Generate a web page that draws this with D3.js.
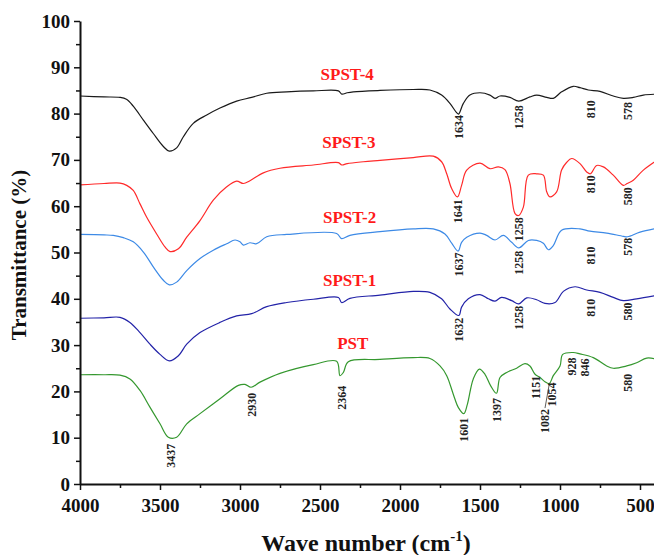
<!DOCTYPE html>
<html>
<head>
<meta charset="utf-8">
<script src="https://cdn.jsdelivr.net/npm/d3@7"></script>
<style>
  body { margin: 0; background: #fff; }
  svg text { font-family: "Liberation Serif", "Times New Roman", Times, serif !important; }
</style>
</head>
<body>
<div id="chart"></div>
<script>
// spectra, [wave number, transmittance]
var spst4 = [[4000,83.8],[3850,83.6],[3750,83.5],[3710,83.1],[3667,81.6],[3604,78.6],[3542,75.7],[3479,72.9],[3442,71.9],
  [3396,72.6],[3354,75.0],[3292,77.9],[3208,79.7],[3125,81.2],[3021,82.7],[2927,83.5],[2833,84.4],[2708,84.7],
  [2542,84.9],[2385,84.9],[2364,84.2],[2330,84.5],[2292,84.7],[2125,85.0],[1917,85.2],[1813,85.1],[1740,84.0],
  [1688,82.2],[1646,80.2],[1634,79.9],[1604,82.2],[1563,84.0],[1500,84.5],[1438,84.0],[1406,83.3],[1375,83.8],
  [1313,83.5],[1258,82.7],[1188,83.6],[1146,84.0],[1083,83.5],[1042,83.3],[990,84.7],[917,85.9],[875,85.6],
  [823,85.1],[750,84.8],[667,83.8],[604,83.3],[542,83.5],[479,84.0],[400,84.2]];

var spst3 = [[4000,64.6],[3850,64.9],[3750,65.0],[3708,64.5],[3667,63.4],[3625,60.5],[3583,57.6],[3521,54.0],[3469,51.2],
  [3437,50.2],[3385,50.8],[3333,53.3],[3250,56.9],[3167,61.3],[3083,64.2],[3021,65.4],[2979,64.9],[2938,65.5],
  [2854,67.2],[2750,68.2],[2542,68.9],[2385,69.4],[2364,68.9],[2330,69.2],[2229,69.6],[2125,69.9],[1917,70.5],
  [1792,70.8],[1740,69.6],[1708,67.0],[1677,63.8],[1641,62.0],[1615,64.5],[1583,67.8],[1500,69.3],[1438,68.1],
  [1385,68.5],[1344,67.9],[1313,64.9],[1281,58.4],[1258,58.0],[1229,59.8],[1198,66.7],[1146,67.0],[1104,66.7],
  [1083,63.1],[1063,62.0],[1021,63.1],[990,67.8],[958,69.5],[927,70.3],[875,69.2],[833,67.4],[810,67.0],
  [771,68.8],[729,68.5],[667,66.7],[604,64.5],[580,64.9],[542,65.6],[479,67.8],[400,69.8]];

var spst2 = [[4000,53.9],[3850,53.8],[3792,53.7],[3729,53.2],[3667,52.3],[3604,50.1],[3542,46.9],[3479,44.0],[3442,43.0],
  [3396,43.6],[3333,46.1],[3250,48.7],[3167,50.5],[3083,51.9],[3031,52.7],[3000,52.3],[2979,51.6],[2938,52.1],
  [2896,51.9],[2833,53.4],[2708,53.9],[2396,54.1],[2365,53.0],[2313,53.7],[2125,54.5],[1917,55.1],[1792,55.1],
  [1719,54.0],[1677,52.0],[1637,50.3],[1615,52.2],[1583,53.3],[1500,54.2],[1458,53.7],[1406,52.7],[1354,53.7],
  [1302,52.2],[1258,51.0],[1198,52.6],[1146,52.6],[1104,52.0],[1073,50.6],[1042,51.5],[990,54.8],[875,55.1],
  [813,54.6],[708,54.2],[604,53.5],[578,53.4],[500,54.4],[400,55.2]];

var spst1 = [[4000,35.8],[3850,35.9],[3750,36.0],[3688,34.9],[3625,32.7],[3563,30.2],[3500,28.0],[3442,26.6],[3385,27.7],
  [3333,30.2],[3250,32.7],[3125,34.9],[3021,36.3],[2927,36.8],[2833,38.3],[2708,39.2],[2542,39.9],[2385,40.3],
  [2365,39.2],[2313,40.1],[2125,40.8],[1917,41.6],[1813,41.4],[1740,40.0],[1688,37.8],[1632,36.4],[1615,38.2],
  [1573,40.0],[1500,40.9],[1448,40.0],[1406,39.5],[1365,40.3],[1302,39.6],[1258,38.9],[1208,40.2],[1146,39.8],
  [1094,39.0],[1031,39.2],[979,41.6],[906,42.6],[833,41.9],[750,41.4],[667,40.3],[604,39.6],[521,40.0],[400,40.7]];

var pst = [[4000,23.6],[3850,23.6],[3750,23.5],[3688,22.7],[3625,20.2],[3563,16.6],[3500,13.0],[3448,10.1],[3396,10.1],
  [3333,13.0],[3250,15.2],[3125,18.4],[3010,21.3],[2969,21.5],[2931,20.9],[2875,22.0],[2750,23.9],[2542,25.8],
  [2396,26.5],[2375,23.4],[2354,24.1],[2323,26.4],[2125,26.9],[1917,27.3],[1813,27.1],[1750,25.5],[1708,23.4],
  [1667,19.4],[1635,16.5],[1601,15.2],[1579,17.2],[1542,22.7],[1504,24.8],[1469,23.7],[1433,21.2],[1397,19.6],
  [1375,23.0],[1333,24.1],[1271,25.0],[1219,26.0],[1188,25.5],[1156,23.7],[1125,23.0],[1094,22.1],[1067,21.7],
  [1042,23.4],[1000,25.5],[983,28.0],[917,28.4],[875,28.1],[792,27.3],[708,25.5],[667,25.0],[583,25.5],
  [521,26.2],[458,27.2],[400,27.0]];

var seriesNames = ["SPST-4", "SPST-3", "SPST-2", "SPST-1", "PST"];
var seriesColors = ["#1a1a1a", "#ff2a2a", "#3d8ae6", "#2323a8", "#35982f"];
var seriesData = [spst4, spst3, spst2, spst1, pst];
// series name label anchor [wave number, transmittance]
var nameAnchors = [[2330, 87.2], [2320, 72.5], [2315, 56.3], [2315, 42.8], [2295, 29.2]];

// peak labels [wave number, transmittance at label top, text]
var peaks4 = [[1634, 79.7, "1634"], [1258, 81.8, "1258"], [810, 82.9, "810"], [578, 82.5, "578"]];
var peaks3 = [[1641, 61.5, "1641"], [1258, 57.6, "1258"], [810, 66.7, "810"], [580, 64.1, "580"]];
var peaks2 = [[1637, 50.0, "1637"], [1258, 50.4, "1258"], [810, 51.3, "810"], [578, 53.2, "578"]];
var peaks1 = [[1632, 35.9, "1632"], [1258, 38.5, "1258"], [810, 40.0, "810"], [580, 39.2, "580"]];
var peaks0 = [[3437, 8.7, "3437"], [2930, 19.7, "2930"], [2364, 21.2, "2364"], [1601, 14.3, "1601"],
  [1397, 18.6, "1397"], [1151, 23.4, "1151"], [1100, 16.2, "1082"], [1054, 21.9, "1054"],
  [928, 27.3, "928"], [846, 27.1, "846"], [580, 23.8, "580"]];

var xTicks = [4000, 3500, 3000, 2500, 2000, 1500, 1000, 500];
var xMinor = [3750, 3250, 2750, 2250, 1750, 1250, 750];
var yTicks = [0, 10, 20, 30, 40, 50, 60, 70, 80, 90, 100];
var yMinor = [5, 15, 25, 35, 45, 55, 65, 75, 85, 95];

var w = 654;
var h = 555;

var svg = d3.select("#chart")
  .append("svg")
  .attr("width", w)
  .attr("height", h);

svg.append("rect").attr("width", w).attr("height", h).attr("fill", "#fff");

var x = d3.scaleLinear().domain([4000, 400]).range([80, 656]);
var y = d3.scaleLinear().domain([0, 100]).range([484, 21]);

var line = d3.line()
  .x(function(d) { return x(d[0]); })
  .y(function(d) { return y(d[1]); })
  .curve(d3.curveCatmullRom.alpha(0.5));

seriesData.forEach(function(s, i) {
  svg.append("path")
    .datum(s)
    .attr("fill", "none")
    .attr("stroke", seriesColors[i])
    .attr("stroke-width", 1.2)
    .attr("d", line);
});

// series names
svg.selectAll(".name")
  .data(seriesNames)
  .enter().append("text")
  .attr("class", "name")
  .attr("x", function(d, i) { return x(nameAnchors[i][0]); })
  .attr("y", function(d, i) { return y(nameAnchors[i][1]); })
  .attr("text-anchor", "middle")
  .attr("font-size", 17)
  .attr("font-weight", "bold")
  .attr("fill", "#ff1a1a")
  .text(function(d) { return d; });

// peak labels, rotated
var allPeaks = [].concat(peaks4, peaks3, peaks2, peaks1, peaks0);
svg.selectAll(".peak")
  .data(allPeaks)
  .enter().append("text")
  .attr("class", "peak")
  .attr("transform", function(d) {
    return "translate(" + (x(d[0]) + 4.5) + "," + y(d[1]) + ") rotate(-90)";
  })
  .attr("text-anchor", "end")
  .attr("font-size", 12)
  .attr("font-weight", "bold")
  .attr("fill", "#222")
  .text(function(d) { return d[2]; });

// leader for 1082
svg.append("line")
  .attr("x1", x(1100) + 1).attr("y1", y(16.4))
  .attr("x2", x(1068)).attr("y2", y(21.4))
  .attr("stroke", "#333").attr("stroke-width", 0.8);

// axes
var xAxis = d3.axisBottom(x).tickValues(xTicks).tickSize(6).tickSizeOuter(0).tickPadding(9).tickFormat(d3.format("d"));
var xAxisMinor = d3.axisBottom(x).tickValues(xMinor).tickSize(4).tickFormat("");
var yAxis = d3.axisLeft(y).tickValues(yTicks).tickSize(6).tickSizeOuter(0).tickPadding(4);
var yAxisMinor = d3.axisLeft(y).tickValues(yMinor).tickSize(4).tickFormat("");

svg.append("g").attr("transform", "translate(0," + y(0) + ")").call(xAxis);
svg.append("g").attr("transform", "translate(0," + y(0) + ")").call(xAxisMinor).select(".domain").remove();
svg.append("g").attr("transform", "translate(" + x(4000) + ",0)").call(yAxis);
svg.append("g").attr("transform", "translate(" + x(4000) + ",0)").call(yAxisMinor).select(".domain").remove();

svg.selectAll(".domain").attr("stroke", "#111").attr("stroke-width", 2);
svg.selectAll(".tick line").attr("stroke", "#111").attr("stroke-width", 1.5);
svg.selectAll(".tick text")
  .attr("font-size", 19)
  .attr("font-weight", "bold")
  .attr("fill", "#111");

// axis titles
svg.append("text")
  .attr("transform", "translate(26,255) rotate(-90)")
  .attr("text-anchor", "middle")
  .attr("font-size", 21)
  .attr("font-weight", "bold")
  .attr("fill", "#111")
  .text("Transmittance (%)");

var xt = svg.append("text")
  .attr("x", 366)
  .attr("y", 551)
  .attr("text-anchor", "middle")
  .attr("font-size", 24)
  .attr("font-weight", "bold")
  .attr("fill", "#111");
xt.append("tspan").text("Wave number (cm");
xt.append("tspan").attr("font-size", 15).attr("dy", -10).text("-1");
xt.append("tspan").attr("dy", 10).text(")");
</script>
</body>
</html>
